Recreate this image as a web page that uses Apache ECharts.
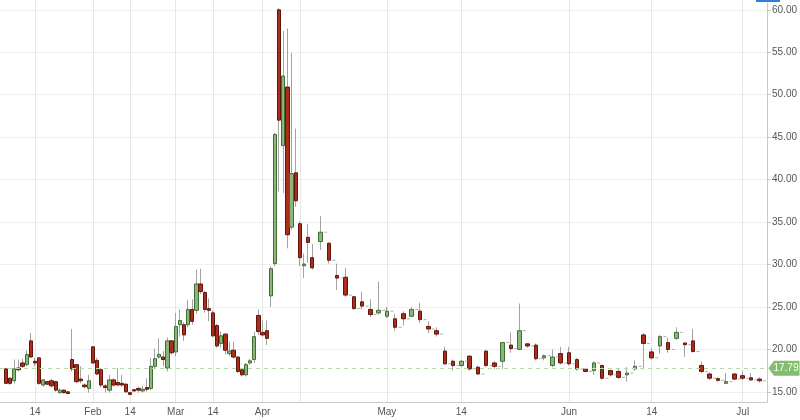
<!DOCTYPE html>
<html><head><meta charset="utf-8">
<script src="https://cdn.jsdelivr.net/npm/echarts@6/dist/echarts.min.js"></script>
<style>html,body{margin:0;padding:0;background:#fff}#c{width:800px;height:420px}</style>
</head><body><div id="c"></div>
<script>
// ---- Period A: daily candles Jan .. mid-April ----
const datesA = ['2020-01-03','2020-01-06','2020-01-07','2020-01-08','2020-01-09','2020-01-10','2020-01-13',
 '2020-01-14','2020-01-15','2020-01-16','2020-01-17','2020-01-20','2020-01-21','2020-01-22','2020-01-23','2020-01-24',
 '2020-01-27','2020-01-28','2020-01-29','2020-01-30','2020-01-31',
 '2020-02-03','2020-02-04','2020-02-05','2020-02-06','2020-02-07','2020-02-10','2020-02-11','2020-02-12','2020-02-13',
 '2020-02-14','2020-02-17','2020-02-18','2020-02-19','2020-02-20','2020-02-21','2020-02-24','2020-02-25','2020-02-26',
 '2020-02-27','2020-02-28',
 '2020-03-02','2020-03-03','2020-03-04','2020-03-05','2020-03-06','2020-03-10','2020-03-11','2020-03-12','2020-03-13',
 '2020-03-16','2020-03-17','2020-03-18','2020-03-19','2020-03-20','2020-03-23','2020-03-24','2020-03-25','2020-03-26',
 '2020-03-27','2020-03-30','2020-03-31',
 '2020-04-01','2020-04-02','2020-04-03','2020-04-06','2020-04-07','2020-04-08','2020-04-09','2020-04-10',
 '2020-04-13','2020-04-14','2020-04-15','2020-04-16','2020-04-17'];
const openA = [17.7,16.6,16.3,17.8,18.4,18.2,21.0,18.6,19.0,15.8, 16.2,16.3,16.2,14.9,15.2,15.0,18.8,18.2,16.5,15.8,
 15.4,20.3,18.7,17.6,15.7,15.2,16.4,16.1,16.0,15.9, 14.9,15.25,15.4,15.1,15.5,15.4,18.0,19.1,19.1,17.8,
 21.0,19.7,22.9,22.9,22.9,24.7,24.6,27.7,26.7,24.8, 24.3,22.8,20.7,21.8,19.5,19.9,19.1,17.6,17.0,18.4,
 18.8,24.0,22.0,22.2,26.3,30.1,60.0,44.0,50.9,34.4, 40.8,34.8,29.85,33.2,30.8];
const closeA = [16.0,16.0,17.7,17.6,18.0,19.4,19.1,18.4,16.0,16.4, 15.9,15.7,15.2,15.2,14.9,14.8,17.7,16.2,16.3,15.6,
 16.3,18.4,17.1,15.8,15.5,16.4,15.8,15.8,15.8,15.0, 14.7,15.1,15.2,15.3,15.3,18.0,18.9,19.4,18.8,21.0,
 19.6,22.7,23.4,21.7,24.7,23.3,27.7,26.8,24.7,24.6, 21.6,20.4,21.6,19.9,19.8,19.1,17.4,17.0,18.2,18.65,
 21.5,22.1,21.7,21.3,29.5,45.3,47.0,52.2,33.5,40.7, 37.5,30.8,30.05,32.6,29.6];
const lowA = [15.9,15.8,16.0,17.4,17.8,18.0,19.0,18.0,15.8,15.6, 15.8,15.5,15.0,14.8,14.8,14.7,17.4,16.0,16.0,15.4,
 14.9,18.3,17.0,15.5,14.9,14.9,15.6,15.7,15.6,14.9, 14.6,15.0,14.9,14.9,15.0,15.2,17.7,18.9,18.0,17.4,
 19.4,19.2,21.5,21.0,22.6,22.9,24.2,26.5,24.3,23.3, 21.4,20.2,20.2,19.4,19.2,18.9,17.2,16.8,16.8,18.2,
 18.4,21.7,21.5,20.5,25.0,29.8,38.6,38.4,31.9,34.1, 36.8,29.8,28.4,30.2,29.4];
const highA = [17.8,16.7,18.8,18.8,18.9,19.9,21.9,19.0,19.1,16.5, 16.3,16.5,16.3,15.4,15.3,15.1,22.4,18.3,18.0,16.0,
 17.0,20.4,19.0,17.8,15.9,17.0,16.6,17.8,17.0,16.0, 15.0,15.3,15.6,15.7,16.6,19.0,20.1,21.3,19.8,21.4,
 21.1,24.3,24.7,23.2,25.8,25.9,29.4,29.5,26.9,26.0, 24.6,23.0,22.1,21.9,20.9,20.9,19.2,17.7,18.4,18.9,
 22.1,24.7,23.4,23.4,29.8,45.5,60.2,57.5,57.8,54.9, 46.0,35.1,31.3,34.8,32.4];

// ---- Period B: daily candles late April .. July (wider spacing) ----
const datesB = ['2020-04-20','2020-04-21','2020-04-22','2020-04-23','2020-04-24','2020-04-27','2020-04-28','2020-04-29',
 '2020-05-01','2020-05-04','2020-05-05','2020-05-06','2020-05-07','2020-05-08','2020-05-11','2020-05-12','2020-05-13',
 '2020-05-14','2020-05-15','2020-05-18','2020-05-19','2020-05-20','2020-05-21','2020-05-22','2020-05-25','2020-05-26',
 '2020-05-27','2020-05-28','2020-05-29','2020-05-30',
 '2020-06-01','2020-06-02','2020-06-03','2020-06-04','2020-06-05','2020-06-08','2020-06-09','2020-06-10','2020-06-11',
 '2020-06-12','2020-06-15','2020-06-16','2020-06-17','2020-06-18','2020-06-22','2020-06-23','2020-06-24','2020-06-25',
 '2020-06-26','2020-06-29','2020-06-30','2020-07-01','2020-07-02','2020-07-06'];
const openB = [32.7,32.5,28.7,28.5,26.2,25.6,24.7,24.3,23.9,23.6, 24.2,23.9,24.5,22.7,22.2,19.8,18.6,18.1,19.2,17.9,
 19.8,18.4,18.6,20.5,20.0,20.65,20.5,19.0,18.1,19.5, 19.6,18.8,17.7,17.5,18.1,17.5,17.4,17.0,17.7,21.7,
 19.7,20.4,20.8,21.3,20.75,21.0,18.1,17.1,16.55,16.0, 17.1,16.9,16.65,16.5];
const closeB = [33.8,30.5,28.4,26.4,24.8,25.1,24.1,24.6,24.5,22.6, 23.6,24.7,23.5,22.4,21.8,18.3,18.1,18.6,17.7,17.1,
 18.1,18.0,20.8,20.1,22.2,20.4,18.9,19.25,19.1,18.4, 18.3,17.7,17.4,18.4,16.6,17.0,16.7,17.2,18.0,20.7,
 19.0,21.5,20.0,22.0,20.55,19.75,17.4,16.6,16.35,16.2, 16.5,16.6,16.4,16.3];
const lowB = [31.7,30.1,27.0,26.2,24.7,24.7,23.8,24.1,23.7,22.2, 22.8,23.8,23.1,21.9,21.5,18.2,17.5,17.9,17.5,17.0,
 17.9,17.7,17.7,19.6,19.9,20.2,18.7,18.7,17.9,18.2, 18.1,17.5,17.3,17.0,16.4,16.8,16.5,16.2,17.5,17.6,
 18.8,19.5,19.6,21.1,19.1,19.6,17.2,16.4,16.2,16.0, 16.4,16.4,16.3,16.1];
const highB = [35.7,32.6,30.1,29.6,26.3,26.8,25.9,28.0,25.0,24.2, 24.5,25.0,25.5,23.3,22.6,20.3,18.8,18.8,19.3,18.1,
 19.9,18.6,20.9,22.0,25.4,20.7,20.7,19.4,20.0,20.3, 20.3,19.0,17.8,18.6,18.2,17.6,17.8,17.9,18.7,21.9,
 20.2,21.7,21.4,22.6,20.8,22.4,18.6,17.3,16.7,17.2, 17.2,17.4,17.2,16.7];

// ---- axis labels & reference value ----
const xTickLabels = {
  '2020-01-14':'14','2020-02-03':'Feb','2020-02-14':'14','2020-03-02':'Mar','2020-03-16':'14',
  '2020-04-01':'Apr','2020-04-14':'',
  '2020-05-01':'May','2020-05-14':'14','2020-06-01':'Jun','2020-06-15':'14','2020-07-01':'Jul'
};
const yTicks = [15,20,25,30,35,40,45,50,55,60];
const lastPrice = 17.79;

const Y_MIN = 13.8, Y_MAX = 60.8;
const UP = '#8bb57b', UP_B = '#3f6e33', DN = '#ad2d1b', DN_B = '#5e170c', WICK = '#a3a3a3';
const FONT = 'Liberation Sans, Arial, sans-serif';

function ohlc(o,c,l,h){ return o.map((v,i)=>[v,c[i],l[i],h[i]]); }
function bodies(o,c){ return o.map((v,i)=>[v,c[i],Math.min(v,c[i]),Math.max(v,c[i])]); }

const catAxis = (gi, dates) => ({
  type:'category', gridIndex:gi, data:dates, boundaryGap:true,
  axisLine:{show:false, onZero:false},
  axisTick:{show:true, alignWithLabel:true, inside:true, length:402,
    interval:(i,v)=>v in xTickLabels, lineStyle:{color:'#e6e6e6', width:1}},
  axisLabel:{show:true, interval:(i,v)=>v in xTickLabels, formatter:v=>xTickLabels[v]||'',
    color:'#555', fontSize:10, fontFamily:FONT, margin:5, hideOverlap:false},
  splitLine:{show:false}
});
const hiddenY = gi => ({type:'value', gridIndex:gi, min:Y_MIN, max:Y_MAX, show:false,
  axisLine:{show:false, onZero:false}, splitLine:{show:false}});

const chart = echarts.init(document.getElementById('c'), null, {renderer:'canvas'});
chart.setOption({
  animation:false,
  backgroundColor:'#fff',
  grid:[
    {left:-2, right:31, top:3, bottom:18},
    {left:3.93, width:310.43, top:3, bottom:18},
    {left:316.56, width:446.85, top:3, bottom:18}
  ],
  xAxis:[
    {type:'value', gridIndex:0, min:0, max:1, axisLine:{show:true, onZero:false, lineStyle:{color:'#c8c8c8'}},
     axisTick:{show:false}, axisLabel:{show:false}, splitLine:{show:false}},
    catAxis(1, datesA),
    catAxis(2, datesB)
  ],
  yAxis:[
    {type:'value', gridIndex:0, position:'right', min:Y_MIN, max:Y_MAX,
     axisLine:{show:true, onZero:false, lineStyle:{color:'#c8c8c8'}},
     axisTick:{show:true, length:4, customValues:yTicks, lineStyle:{color:'#c8c8c8'}},
     axisLabel:{show:true, customValues:yTicks, formatter:v=>v.toFixed(2), color:'#555', fontSize:10, fontFamily:FONT, margin:5},
     splitLine:{show:true, lineStyle:{color:'#efefef'}}},
    hiddenY(1), hiddenY(2)
  ],
  series:[
    {type:'line', xAxisIndex:0, yAxisIndex:0, data:[], silent:true,
     markLine:{silent:true, symbol:'none', label:{show:false},
       lineStyle:{type:[4,4], color:'#b5dba6', width:1}, data:[{yAxis:lastPrice}]},
     markPoint:{silent:true, symbol:'path://M0,7 L6,0 L34,0 L34,14 L6,14 Z', symbolSize:[31,15], symbolOffset:[17,0],
       itemStyle:{color:'#82be6e'},
       label:{show:true, formatter:lastPrice.toFixed(2), color:'#fff', fontSize:10, fontFamily:FONT, offset:[2,0]},
       data:[{coord:[1,lastPrice]}]}},
    {type:'candlestick', xAxisIndex:1, yAxisIndex:1, data:ohlc(openA,closeA,lowA,highA), barWidth:1,
     itemStyle:{color:WICK, color0:WICK, borderColor:WICK, borderColor0:WICK, borderWidth:1}},
    {type:'candlestick', xAxisIndex:1, yAxisIndex:1, data:bodies(openA,closeA), barWidth:3.8,
     itemStyle:{color:UP, color0:DN, borderColor:UP_B, borderColor0:DN_B, borderWidth:1}},
    {type:'candlestick', xAxisIndex:2, yAxisIndex:2, data:ohlc(openB,closeB,lowB,highB), barWidth:1,
     itemStyle:{color:WICK, color0:WICK, borderColor:WICK, borderColor0:WICK, borderWidth:1}},
    {type:'candlestick', xAxisIndex:2, yAxisIndex:2, data:bodies(openB,closeB), barWidth:4,
     itemStyle:{color:UP, color0:DN, borderColor:UP_B, borderColor0:DN_B, borderWidth:1}},
    {type:'scatter', xAxisIndex:2, yAxisIndex:2, silent:true, symbol:'rect', symbolSize:[3,1], symbolOffset:[5,0],
     itemStyle:{color:'#9a9a9a'}, data:closeB.map((v,i)=>[i,v])}
  ],
  graphic:[{type:'rect', left:756, top:0, shape:{width:24, height:2}, style:{fill:'#2a7fe0'}}]
});
</script></body></html>
